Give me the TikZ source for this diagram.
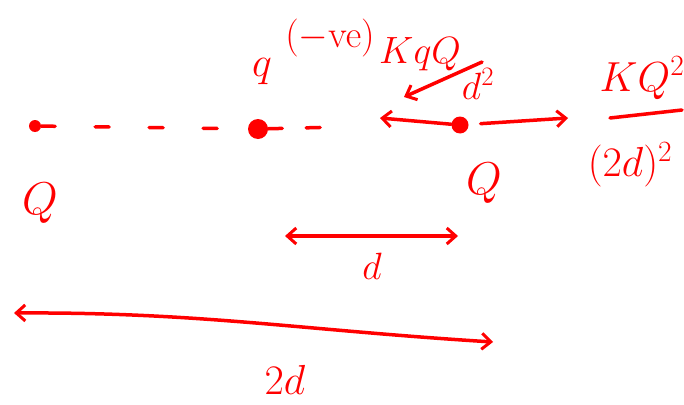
\documentclass[tikz,border=0pt]{standalone}
\usepackage{fix-cm}
\usetikzlibrary{arrows.meta}
\definecolor{ink}{RGB}{255,0,0}
\newcommand{\bigsz}{\fontsize{46}{50}\selectfont}
\newcommand{\midsz}{\fontsize{42}{46}\selectfont}
\begin{document}
\begin{tikzpicture}[x=1pt,y=-1pt,every node/.style={text=ink,font=\fontsize{38}{42}\selectfont},
  dot/.style={circle,fill=ink,inner sep=0pt},pen/.style={draw=ink,line width=3.5pt,line cap=round},
  >={Straight Barb[length=9pt,width=16pt,line width=3pt]}]
\useasboundingbox (0,0) rectangle (684,404);
% charges on the line
\node[dot,minimum size=12pt] (qL) at (35,126) {};
\node[dot,minimum size=20pt] (qm) at (258,129) {};
\node[dot,minimum size=17pt] (qR) at (460,125) {};
\coordinate (dEnd) at (340,127);
\draw[pen,dash pattern=on 14pt off 40pt] (qL) -- (qm);
\draw[pen,dash pattern=on 14pt off 24pt] (qm) -- (dEnd);
% forces
\coordinate (fq) at (380,118); \coordinate (fQ) at (568,118);
\draw[pen,->] (qR) -- (fq);
\draw[pen,->,shorten <=12pt] (qR) -- (fQ);
% labels of the charges
\node[font=\midsz] (lq) at (262,72) {$q$};
\node (lve) at (330,38) {$(-\mathrm{ve})$};
\node (lQL) at (40,203) {\bigsz $Q$};
\node (lQR) at (484,183) {\bigsz $Q$};
% force on q
\node (fnum) at (420,54) {$KqQ$};
\node (fden) at (478,84) {$d^2$};
\coordinate (barA) at (482,62); \coordinate (barB) at (404,97);
\draw[pen,->] (barA) -- (barB);
% force on Q
\node (gnum) at (642,78) {\midsz $KQ^2$};
\coordinate (barC) at (610,118); \coordinate (barD) at (682,110);
\draw[pen] (barC) -- (barD);
\node (gden) at (630,165) {\midsz $(2d)^2$};
% distances
\coordinate (dA) at (285,236); \coordinate (dB) at (458,236);
\draw[pen,<->] (dA) -- (dB);
\node (ld) at (372,266) {$d$};
\coordinate (eA) at (14,313); \coordinate (eB) at (493,342);
\draw[pen,<->] (eA) .. controls (200,312) and (300,330) .. (eB);
\node (l2d) at (285,380) {\midsz $2d$};
\end{tikzpicture}
\end{document}
